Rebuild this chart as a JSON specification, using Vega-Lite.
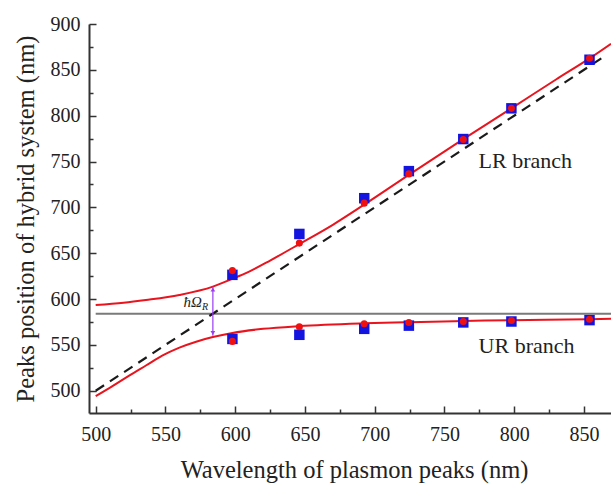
{
  "$schema": "https://vega.github.io/schema/vega-lite/v6.json",
  "autosize": "none",
  "padding": {"left": 89, "top": 24, "right": 0, "bottom": 71},
  "width": 522,
  "height": 389,
  "config": {
    "view": {"stroke": null},
    "font": "Liberation Serif"
  },
  "datasets": {
    "markers": [
      {"x": 598, "y": 626.4, "series": "exp", "branch": "LR"},
      {"x": 646, "y": 671, "series": "exp", "branch": "LR"},
      {"x": 692.5, "y": 710, "series": "exp", "branch": "LR"},
      {"x": 724.5, "y": 739.5, "series": "exp", "branch": "LR"},
      {"x": 763.5, "y": 774.5, "series": "exp", "branch": "LR"},
      {"x": 798, "y": 808, "series": "exp", "branch": "LR"},
      {"x": 854, "y": 861, "series": "exp", "branch": "LR"},
      {"x": 598, "y": 556.5, "series": "exp", "branch": "UR"},
      {"x": 646, "y": 561, "series": "exp", "branch": "UR"},
      {"x": 692.5, "y": 567.5, "series": "exp", "branch": "UR"},
      {"x": 724.5, "y": 571, "series": "exp", "branch": "UR"},
      {"x": 763.5, "y": 574.5, "series": "exp", "branch": "UR"},
      {"x": 798, "y": 575.5, "series": "exp", "branch": "UR"},
      {"x": 854, "y": 577, "series": "exp", "branch": "UR"},
      {"x": 598, "y": 631, "series": "theory", "branch": "LR"},
      {"x": 646, "y": 661, "series": "theory", "branch": "LR"},
      {"x": 692.5, "y": 704.6, "series": "theory", "branch": "LR"},
      {"x": 724.5, "y": 736.5, "series": "theory", "branch": "LR"},
      {"x": 763.5, "y": 774, "series": "theory", "branch": "LR"},
      {"x": 798, "y": 808, "series": "theory", "branch": "LR"},
      {"x": 854, "y": 862.6, "series": "theory", "branch": "LR"},
      {"x": 598, "y": 553.8, "series": "theory", "branch": "UR"},
      {"x": 646, "y": 569.8, "series": "theory", "branch": "UR"},
      {"x": 692.5, "y": 573, "series": "theory", "branch": "UR"},
      {"x": 724.5, "y": 574.5, "series": "theory", "branch": "UR"},
      {"x": 763.5, "y": 575.5, "series": "theory", "branch": "UR"},
      {"x": 798, "y": 576.6, "series": "theory", "branch": "UR"},
      {"x": 854, "y": 578, "series": "theory", "branch": "UR"}
    ],
    "curves": [
      {"x": 500, "y": 593.4, "branch": "LR"},
      {"x": 520, "y": 596, "branch": "LR"},
      {"x": 536, "y": 599, "branch": "LR"},
      {"x": 560, "y": 604.5, "branch": "LR"},
      {"x": 584, "y": 613.5, "branch": "LR"},
      {"x": 597, "y": 621.5, "branch": "LR"},
      {"x": 610, "y": 630, "branch": "LR"},
      {"x": 625, "y": 642, "branch": "LR"},
      {"x": 646, "y": 660, "branch": "LR"},
      {"x": 670, "y": 681, "branch": "LR"},
      {"x": 692.5, "y": 703, "branch": "LR"},
      {"x": 725, "y": 736, "branch": "LR"},
      {"x": 763.5, "y": 774.5, "branch": "LR"},
      {"x": 798, "y": 808, "branch": "LR"},
      {"x": 830, "y": 839.5, "branch": "LR"},
      {"x": 854, "y": 862.5, "branch": "LR"},
      {"x": 869.4, "y": 878.5, "branch": "LR"},
      {"x": 500, "y": 494, "branch": "UR"},
      {"x": 512, "y": 505, "branch": "UR"},
      {"x": 524, "y": 516.5, "branch": "UR"},
      {"x": 536, "y": 527.5, "branch": "UR"},
      {"x": 548, "y": 538.5, "branch": "UR"},
      {"x": 560, "y": 547, "branch": "UR"},
      {"x": 572, "y": 553.5, "branch": "UR"},
      {"x": 584, "y": 558.5, "branch": "UR"},
      {"x": 598, "y": 563, "branch": "UR"},
      {"x": 620, "y": 567.5, "branch": "UR"},
      {"x": 646, "y": 570.5, "branch": "UR"},
      {"x": 692.5, "y": 573.5, "branch": "UR"},
      {"x": 725, "y": 574.8, "branch": "UR"},
      {"x": 763.5, "y": 576, "branch": "UR"},
      {"x": 798, "y": 577, "branch": "UR"},
      {"x": 854, "y": 578, "branch": "UR"},
      {"x": 869.4, "y": 578.5, "branch": "UR"}
    ],
    "diag": [
      {"x": 500, "y": 500},
      {"x": 866, "y": 866}
    ],
    "exciton": [
      {"x": 500, "y": 584},
      {"x": 869.4, "y": 584}
    ],
    "arrow": [
      {"x": 584, "y": 560, "y2": 613.5}
    ],
    "heads": [
      {"x": 584, "y": 610.5, "dir": "up"},
      {"x": 584, "y": 563, "dir": "down"}
    ],
    "branchlabels": [
      {"x": 774.5, "y": 743, "text": "LR branch"},
      {"x": 774.5, "y": 541, "text": "UR branch"}
    ],
    "rabi": [
      {"x": 569.5, "y": 591, "text": "ħΩ"}
    ],
    "rabisub": [
      {"x": 578.3, "y": 588.5, "text": "R"}
    ]
  },
  "layer": [
    {
      "data": {"name": "exciton"},
      "mark": {"type": "line", "color": "#7a7a7a", "strokeWidth": 2, "clip": true},
      "encoding": {
        "x": {
          "field": "x", "type": "quantitative",
          "scale": {"domain": [495.2, 869.4], "nice": false, "zero": false},
          "axis": {
            "orient": "bottom", "grid": false,
            "title": "Wavelength of plasmon peaks (nm)",
            "values": [500, 550, 600, 650, 700, 750, 800, 850],
            "ticks": false, "tickSize": 0,
            "domainColor": "#333", "domainWidth": 2,
            "labelFont": "Liberation Serif", "labelFontSize": 20, "labelColor": "#222",
            "labelPadding": 11, "labelFlush": false, "labelOverlap": false,
            "titleFont": "Liberation Serif", "titleFontSize": 24.5, "titleFontWeight": "normal", "titleColor": "#222",
            "titleBaseline": "alphabetic", "titleY": 64, "titleX": 265
          }
        },
        "y": {
          "field": "y", "type": "quantitative",
          "scale": {"domain": [475.7, 900], "nice": false, "zero": false},
          "axis": {
            "orient": "left", "grid": false,
            "title": "Peaks position of hybrid system (nm)",
            "values": [500, 550, 600, 650, 700, 750, 800, 850, 900],
            "ticks": false, "tickSize": 0,
            "domainColor": "#333", "domainWidth": 2,
            "labelFont": "Liberation Serif", "labelFontSize": 20, "labelColor": "#222",
            "labelPadding": 9, "labelFlush": false, "labelOverlap": false,
            "titleFont": "Liberation Serif", "titleFontSize": 24.5, "titleFontWeight": "normal", "titleColor": "#222",
            "titleBaseline": "alphabetic", "titleAngle": -90, "titleX": -56, "titleY": 194.5
          }
        }
      }
    },
    {
      "data": {"name": "diag"},
      "mark": {"type": "line", "color": "#1a1a1a", "strokeWidth": 2.2, "strokeDash": [10, 7], "clip": true},
      "encoding": {
        "x": {
          "field": "x", "type": "quantitative",
          "axis": {
            "orient": "top", "offset": -389, "title": null, "grid": false,
            "values": [525, 575, 625, 675, 725, 775, 825],
            "labels": false, "domain": false,
            "tickSize": 4, "tickColor": "#333", "tickWidth": 1.5
          }
        },
        "y": {
          "field": "y", "type": "quantitative",
          "axis": {
            "orient": "right", "offset": -522, "title": null, "grid": false,
            "values": [525, 575, 625, 675, 725, 775, 825, 875],
            "labels": false, "domain": false,
            "tickSize": 4, "tickColor": "#333", "tickWidth": 1.5
          }
        }
      }
    },
    {
      "data": {"name": "curves"},
      "mark": {"type": "line", "color": "#e8141e", "strokeWidth": 2, "interpolate": "monotone", "clip": true},
      "encoding": {
        "x": {
          "field": "x", "type": "quantitative",
          "axis": {
            "orient": "top", "offset": -389, "title": null, "grid": false,
            "values": [500, 550, 600, 650, 700, 750, 800, 850],
            "labels": false, "domain": false,
            "tickSize": 7, "tickColor": "#333", "tickWidth": 1.5
          }
        },
        "y": {
          "field": "y", "type": "quantitative",
          "axis": {
            "orient": "right", "offset": -522, "title": null, "grid": false,
            "values": [500, 550, 600, 650, 700, 750, 800, 850, 900],
            "labels": false, "domain": false,
            "tickSize": 7, "tickColor": "#333", "tickWidth": 1.5
          }
        },
        "detail": {"field": "branch"}
      }
    },
    {
      "mark": {"type": "rule", "color": "#333", "strokeWidth": 2},
      "encoding": {"y": {"datum": 900, "axis": null}}
    },
    {
      "data": {"name": "arrow"},
      "mark": {"type": "rule", "color": "#9b3cf0", "strokeWidth": 1.2},
      "encoding": {
        "x": {"field": "x", "type": "quantitative", "axis": null},
        "y": {"field": "y", "type": "quantitative", "axis": null},
        "y2": {"field": "y2"}
      }
    },
    {
      "data": {"name": "heads"},
      "mark": {"type": "point", "filled": true, "color": "#9b3cf0", "size": 22, "opacity": 1},
      "encoding": {
        "x": {"field": "x", "type": "quantitative", "axis": null},
        "y": {"field": "y", "type": "quantitative", "axis": null},
        "shape": {"field": "dir", "type": "nominal", "scale": {"domain": ["up", "down"], "range": ["triangle-up", "triangle-down"]}, "legend": null}
      }
    },
    {
      "data": {"name": "markers"},
      "transform": [{"filter": "datum.series === 'exp'"}],
      "mark": {"type": "square", "filled": true, "color": "#1414e0", "size": 110, "opacity": 1},
      "encoding": {
        "x": {"field": "x", "type": "quantitative", "axis": null},
        "y": {"field": "y", "type": "quantitative", "axis": null}
      }
    },
    {
      "data": {"name": "markers"},
      "transform": [{"filter": "datum.series === 'theory'"}],
      "mark": {"type": "circle", "color": "#f01010", "size": 50, "opacity": 1},
      "encoding": {
        "x": {"field": "x", "type": "quantitative", "axis": null},
        "y": {"field": "y", "type": "quantitative", "axis": null}
      }
    },
    {
      "data": {"name": "branchlabels"},
      "mark": {"type": "text", "font": "Liberation Serif", "fontSize": 22, "color": "#222", "align": "left", "baseline": "alphabetic"},
      "encoding": {
        "x": {"field": "x", "type": "quantitative", "axis": null},
        "y": {"field": "y", "type": "quantitative", "axis": null},
        "text": {"field": "text"}
      }
    },
    {
      "data": {"name": "rabi"},
      "mark": {"type": "text", "font": "Liberation Serif", "fontSize": 15, "fontStyle": "italic", "color": "#222", "align": "center", "baseline": "alphabetic"},
      "encoding": {
        "x": {"field": "x", "type": "quantitative", "axis": null},
        "y": {"field": "y", "type": "quantitative", "axis": null},
        "text": {"field": "text"}
      }
    },
    {
      "data": {"name": "rabisub"},
      "mark": {"type": "text", "font": "Liberation Serif", "fontSize": 10, "fontStyle": "italic", "color": "#222", "align": "center", "baseline": "alphabetic"},
      "encoding": {
        "x": {"field": "x", "type": "quantitative", "axis": null},
        "y": {"field": "y", "type": "quantitative", "axis": null},
        "text": {"field": "text"}
      }
    }
  ]
}
